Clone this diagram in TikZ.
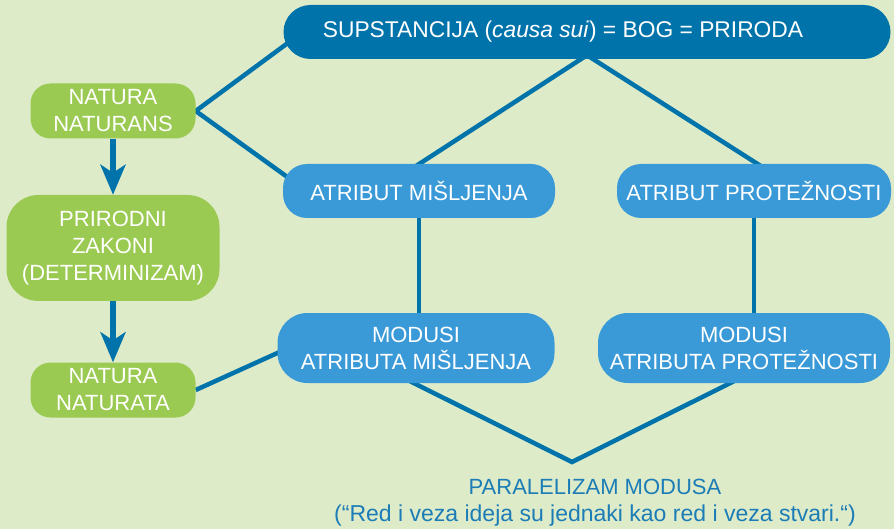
\documentclass[tikz,border=0pt]{standalone}
\usepackage{fontspec}
\setmainfont{Liberation Sans}
\usetikzlibrary{arrows.meta,calc}
\definecolor{pozadina}{HTML}{DDEBC9}
\definecolor{tamnoplava}{HTML}{0073AA}
\definecolor{plava}{HTML}{3A9AD8}
\definecolor{zelena}{HTML}{9BCA52}
\definecolor{tekstplava}{HTML}{1C7DB6}
\pgfdeclarelayer{pozadinski}
\pgfsetlayers{pozadinski,main}

\begin{document}
\begin{tikzpicture}[x=1pt,y=-1pt,
  font=\fontsize{22}{27}\selectfont,
  kutija/.style={text=white, align=center, inner sep=0pt},
  zelenakutija/.style={kutija, fill=zelena, rounded corners=20pt},
  plavakutija/.style={kutija, fill=plava, rounded corners=24pt},
  veza/.style={tamnoplava, line width=4.5pt},
  tok/.style={tamnoplava, line width=5.5pt, -{Stealth[length=30pt,width=25pt,inset=8pt]}}]
  \useasboundingbox (0,0) rectangle (894,529);

  % Supstancija
  \node[kutija, fill=tamnoplava, minimum width=607pt, minimum height=54pt, rounded corners=27pt,
    font=\fontsize{22.8}{27}\selectfont]
    (supstancija) at (587,32) {SUPSTANCIJA (\textit{causa sui}) = BOG = PRIRODA\hspace{48pt}};

  % Lijevi stupac
  \node[zelenakutija, minimum width=165pt, minimum height=55pt] (naturans) at (113,111) {NATURA\\NATURANS};
  \node[zelenakutija, minimum width=213pt, minimum height=106pt, rounded corners=32pt]
    (zakoni) at (113,248) {PRIRODNI\\ZAKONI\\(DETERMINIZAM)};
  \node[zelenakutija, minimum width=165pt, minimum height=55pt] (naturata) at (113,390) {NATURA\\NATURATA};

  % Atributi i modusi
  \node[plavakutija, minimum width=272pt, minimum height=54pt] (misljenje) at (419,191) {ATRIBUT MIŠLJENJA};
  \node[plavakutija, minimum width=274pt, minimum height=54pt] (proteznost) at (754,191) {ATRIBUT PROTEŽNOSTI};
  \node[plavakutija, minimum width=277pt, minimum height=70pt, rounded corners=30pt]
    (modusim) at (416,348) {MODUSI\\ATRIBUTA MIŠLJENJA};
  \node[plavakutija, minimum width=292pt, minimum height=70pt, rounded corners=30pt]
    (modusip) at (744,348) {MODUSI\\ATRIBUTA PROTEŽNOSTI};

  \node[tekstplava, align=center] (paralelizam) at (595,503)
    {PARALELIZAM MODUSA\\{\fontsize{23}{27}\selectfont(“Red i veza ideja su jednaki kao red i veza stvari.“)}};
  \coordinate (vrh) at (572,462);

  \draw[tok] (naturans.south) -- (zakoni.north);
  \draw[tok] (zakoni.south) -- (naturata.north);

  \begin{pgfonlayer}{pozadinski}
    \fill[pozadina] (0,0) rectangle (894,529);
    \draw[veza] ($(supstancija.west)+(14pt,-4pt)$) -- (naturans.east) -- ($(misljenje.west)+(17pt,5pt)$);
    \draw[veza] ($(misljenje.north)+(-15pt,-10pt)$) -- ($(supstancija.south)+(0,4pt)$)
      -- ($(proteznost.north)+(19pt,-10pt)$);
    \draw[veza] (misljenje) -- (misljenje |- modusim);
    \draw[veza] (proteznost) -- (proteznost |- modusip);
    \draw[veza] (naturata.east) -- ($(modusim.west)+(20pt,4pt)$);
    \draw[veza] ($(modusim.south)+(-22pt,10pt)$) -- (vrh) -- ($(modusip.south)+(6pt,10pt)$);
  \end{pgfonlayer}
\end{tikzpicture}
\end{document}
